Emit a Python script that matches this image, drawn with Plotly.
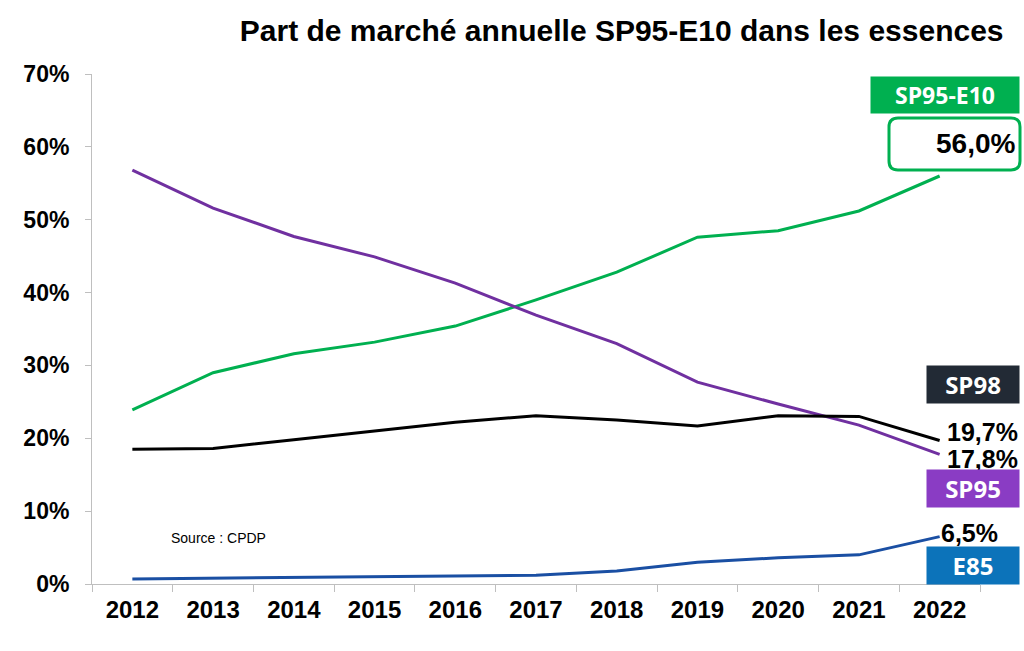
import plotly.graph_objects as go

years = ["2012", "2013", "2014", "2015", "2016", "2017", "2018", "2019", "2020", "2021", "2022"]
sp95_e10 = [23.9, 29.0, 31.6, 33.2, 35.4, 39.0, 42.8, 47.6, 48.5, 51.2, 56.0]
sp95 = [56.8, 51.6, 47.7, 44.9, 41.3, 36.9, 33.0, 27.7, 24.7, 21.8, 17.8]
sp98 = [18.5, 18.6, 19.8, 21.0, 22.2, 23.1, 22.5, 21.7, 23.1, 23.0, 19.7]
e85 = [0.7, 0.8, 0.9, 0.9, 1.0, 1.2, 1.8, 3.0, 3.6, 4.0, 6.5]
yticks = [0, 10, 20, 30, 40, 50, 60, 70]
yticklabels = [f"{v}%" for v in yticks]

GREEN = "#00B050"
PURPLE = "#7030A0"
BLACK = "#000000"
BLUE = "#1A4FA3"
FONT = "Liberation Sans, Arial, sans-serif"
BOXFONT = "Open Sans, sans-serif"

fig = go.Figure()
for vals, col in [(sp95_e10, GREEN), (sp95, PURPLE), (sp98, BLACK), (e85, BLUE)]:
    fig.add_trace(go.Scatter(x=years, y=vals, mode="lines",
                             line=dict(color=col, width=3), showlegend=False,
                             hoverinfo="skip"))

def fmt(v):
    return f"{v:.1f}%".replace(".", ",")

ann = []
# value labels at end
ann.append(dict(xref="paper", yref="y", x=1.045, y=sp98[-1], yshift=8,
                text=fmt(sp98[-1]), xanchor="right", yanchor="middle", showarrow=False,
                font=dict(family=FONT, size=25, color="black", weight="bold")))
ann.append(dict(xref="paper", yref="y", x=1.045, y=sp95[-1], yshift=-5,
                text=fmt(sp95[-1]), xanchor="right", yanchor="middle", showarrow=False,
                font=dict(family=FONT, size=25, color="black", weight="bold")))
ann.append(dict(xref="paper", yref="y", x=1.022, y=e85[-1], yshift=4,
                text=fmt(e85[-1]), xanchor="right", yanchor="middle", showarrow=False,
                font=dict(family=FONT, size=25, color="black", weight="bold")))
ann.append(dict(xref="paper", yref="paper", x=1.042, y=0.863,
                text=fmt(sp95_e10[-1]), xanchor="right", yanchor="middle", showarrow=False,
                font=dict(family=FONT, size=28, color="black", weight="bold")))

# coloured name boxes
def box(text, color, x0p, x1p, yc, h, size):
    return dict(xref="paper", yref="paper", x=x1p, y=yc, xanchor="right", yanchor="middle",
                text=text, showarrow=False, bgcolor=color, width=(x1p - x0p) * 888,
                height=h, align="center", borderpad=0,
                font=dict(family=BOXFONT, size=size, color="white", weight="bold"))

ann.append(box("SP95-E10", GREEN, (872 - 92) / 888, (1020 - 92) / 888, (584 - 95) / 510, 36, 23))
ann.append(box("SP98", "#222A35", (928 - 92) / 888, (1020 - 92) / 888, (584 - 384.5) / 510, 37, 24))
ann.append(box("SP95", "#8A3CC4", (928 - 92) / 888, (1020 - 92) / 888, (584 - 488.5) / 510, 37, 24))
ann.append(box("E85", "#0C73BA", (928 - 92) / 888, (1020 - 92) / 888, (584 - 565.5) / 510, 37, 24))

ann.append(dict(xref="paper", yref="paper", x=(169 - 92) / 888, y=(584 - 538) / 510,
                text="Source : CPDP", xanchor="left", yanchor="middle", showarrow=False,
                font=dict(family=FONT, size=14, color="black")))

# rounded green frame for 56,0%
def px(x):
    return (x - 92) / 888
def py(y):
    return (584 - y) / 510
x0, x1, y0, y1, r = 889, 1020, 118, 170, 9
path = (f"M {px(x0 + r)},{py(y0)} L {px(x1 - r)},{py(y0)} Q {px(x1)},{py(y0)} {px(x1)},{py(y0 + r)} "
        f"L {px(x1)},{py(y1 - r)} Q {px(x1)},{py(y1)} {px(x1 - r)},{py(y1)} "
        f"L {px(x0 + r)},{py(y1)} Q {px(x0)},{py(y1)} {px(x0)},{py(y1 - r)} "
        f"L {px(x0)},{py(y0 + r)} Q {px(x0)},{py(y0)} {px(x0 + r)},{py(y0)} Z")

fig.update_layout(
    width=1024, height=651,
    margin=dict(l=92, r=44, t=74, b=67),
    paper_bgcolor="white", plot_bgcolor="white",
    title=dict(text="Part de marché annuelle SP95-E10 dans les essences",
               x=0.98, xanchor="right", y=0.953, yanchor="middle",
               font=dict(family=FONT, size=30, color="black", weight="bold")),
    xaxis=dict(type="category", range=[-0.5, 10.5], tickson="boundaries",
               ticks="outside", ticklen=7, tickcolor="#BFBFBF", ticklabelstandoff=4,
               showline=True, linecolor="#BFBFBF", linewidth=1, showgrid=False,
               tickfont=dict(family=FONT, size=24, color="black", weight="bold")),
    yaxis=dict(range=[0, 70], tickmode="array", tickvals=yticks, ticktext=yticklabels,
               ticks="outside", ticklen=6, tickcolor="#BFBFBF", ticklabelstandoff=11,
               showline=True, linecolor="#BFBFBF", linewidth=1, showgrid=False,
               zeroline=False,
               tickfont=dict(family=FONT, size=23, color="black", weight="bold")),
    annotations=ann,
    shapes=[dict(type="path", xref="paper", yref="paper", path=path,
                 line=dict(color=GREEN, width=3), fillcolor="rgba(0,0,0,0)", layer="below")],
)

fig.write_html("out.html")
